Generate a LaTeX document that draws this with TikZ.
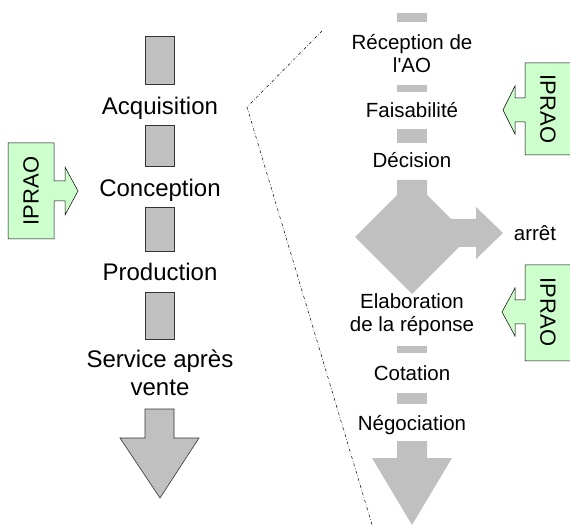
\documentclass[tikz,border=0pt]{standalone}
\usepackage{fontspec}
\setmainfont{Liberation Sans}
\usepackage{xcolor}
\usetikzlibrary{positioning}

\definecolor{barfill}{HTML}{C0C0C0}
\definecolor{iprfill}{HTML}{CCFFCC}

\begin{document}
\begin{tikzpicture}[
        x=1pt, y=-1pt,
        bigstep/.style={
            anchor=base,
            align=center,
            inner sep=0pt,
            font=\fontsize{24}{28}\selectfont
        },
        smallstep/.style={
            anchor=base,
            align=center,
            inner sep=0pt,
            font=\fontsize{20.5}{23.5}\selectfont
        },
        framedbar/.style={
            draw=black!80,
            line width=0.6pt,
            fill=barfill
        },
        plainbar/.style={
            fill=barfill
        },
        iprao/.style={
            draw=black,
            line width=0.5pt,
            fill=iprfill
        },
        ipraotext/.style={
            inner sep=0pt,
            font=\fontsize{22}{26}\selectfont
        },
        zoomline/.style={
            line width=0.5pt,
            dash pattern=on 3pt off 2pt on 0.6pt off 2pt
        }
    ]
    \useasboundingbox (0,0) rectangle (570,526);

    % left column : life cycle
    \node[bigstep] (acq) at (160,115) {Acquisition};
    \node[bigstep] (concep) at (160,197) {Conception};
    \node[bigstep] (prod) at (160,281) {Production};
    \node[bigstep] (sav) at (160,395) {Service après\\vente};

    \draw[framedbar] (145,36) rectangle (174,84);
    \draw[framedbar] (145,125) rectangle (174,166);
    \draw[framedbar] (145,207) rectangle (174,251);
    \draw[framedbar] (145,292) rectangle (174,339);
    \draw[framedbar] (145,409) -- (174,409) -- (174,438) -- (199,438)
        -- (160,498) -- (120,438) -- (145,438) -- cycle;

    % IPRAO on conception
    \draw[iprao] (8,143) -- (54,143) -- (54,181) -- (65,181) -- (65,167)
        -- (78,191) -- (65,215) -- (65,201) -- (54,201) -- (54,239)
        -- (8,239) -- cycle;
    \node[ipraotext, rotate=90] (iprao1) at (31,191) {IPRAO};

    % zoom on acquisition
    \draw[zoomline] (322,31) -- (247,107) -- (373,528);

    % right column : acquisition detail
    \node[smallstep] (recep) at (412,73) {Réception de\\l\textquotesingle AO};
    \node[smallstep] (faisab) at (412,118) {Faisabilité};
    \node[smallstep] (decis) at (412,168) {Décision};
    \node[smallstep] (arret) at (535,241) {arrêt};
    \node[smallstep] (elab) at (412,332) {Elaboration\\de la réponse};
    \node[smallstep] (cotat) at (412,380) {Cotation};
    \node[smallstep] (negoc) at (412,430) {Négociation};

    \fill[plainbar] (397,13) rectangle (427,22);
    \fill[plainbar] (397,85) rectangle (427,92);
    \fill[plainbar] (397,129) rectangle (427,143);
    \fill[plainbar] (397,180) -- (427,180) -- (427,195) -- (451,219)
        -- (476,219) -- (476,207) -- (503,233) -- (476,259) -- (476,247)
        -- (459,247) -- (412,294) -- (355,237) -- (397,195) -- cycle;
    \fill[plainbar] (397,346) rectangle (427,353);
    \fill[plainbar] (397,393) rectangle (427,404);
    \fill[plainbar] (397,441) -- (427,441) -- (427,458) -- (452,458)
        -- (412,525) -- (372,458) -- (397,458) -- cycle;

    % IPRAO on faisabilite and elaboration
    \draw[iprao] (575,63) -- (525,63) -- (525,98) -- (515,98) -- (515,86)
        -- (503,110) -- (515,134) -- (515,122) -- (525,122) -- (525,155)
        -- (575,155);
    \node[ipraotext, rotate=-90] (iprao2) at (548,109) {IPRAO};

    \draw[iprao] (575,265) -- (525,265) -- (525,300) -- (515,300) -- (515,288)
        -- (502,312) -- (515,336) -- (515,324) -- (525,324) -- (525,361)
        -- (575,361);
    \node[ipraotext, rotate=-90] (iprao3) at (548,312) {IPRAO};

\end{tikzpicture}
\end{document}
